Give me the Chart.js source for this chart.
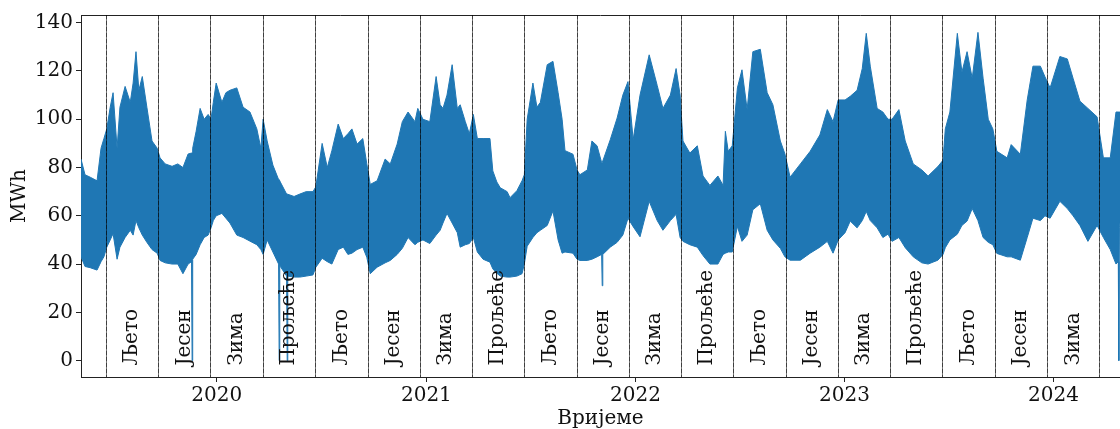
<!DOCTYPE html>
<html lang="sr">
<head>
  <meta charset="UTF-8">
  <title>Потрошња по годишњим добима</title>
  <script src="https://cdn.jsdelivr.net/npm/chart.js@4.4.1/dist/chart.umd.min.js"></script>
  <style>
    html, body { margin: 0; padding: 0; background: #fff; }
  </style>
</head>

<body>
  <canvas id="chart" width="1120" height="429"></canvas>

  <script>
    // day index, 0 = 1 Jan 2020; upper / lower envelope of the hourly series (MWh)
    const days = [-237, -230, -221, -209, -202, -197, -192, -186, -181, -174, -169, -160, -151, -146, -141, -136, -130, -122, -113, -104,
      -99, -90, -78, -68, -59, -50, -44, -43, -42, -36, -29, -22, -15, -10, -6, -1, 9, 16, 23, 35,
      46, 58, 70, 77, 81, 88, 98, 108, 109, 110, 111, 122, 123, 124, 135, 145, 156, 168, 173, 177,
      184, 193, 201, 212, 221, 229, 236, 245, 255, 262, 268, 280, 294, 303, 315, 324, 334, 346, 351, 360,
      372, 383, 390, 395, 402, 411, 420, 425, 434, 441, 448, 455, 465, 477, 482, 489, 495, 507, 512, 524,
      533, 537, 542, 552, 559, 565, 577, 587, 596, 603, 608, 622, 629, 634, 647, 655, 664, 672, 673, 674,
      687, 699, 709, 718, 727, 739, 755, 769, 779, 792, 802, 809, 814, 826, 839, 849, 861, 875, 884, 888,
      893, 900, 909, 917, 926, 936, 949, 961, 971, 984, 992, 1001, 1019, 1036, 1053, 1066, 1076, 1085, 1097, 1106,
      1118, 1127, 1134, 1141, 1153, 1163, 1172, 1179, 1191, 1202, 1216, 1231, 1242, 1259, 1268, 1272, 1280, 1293, 1301, 1310,
      1319, 1329, 1338, 1347, 1355, 1362, 1380, 1387, 1403, 1415, 1425, 1438, 1446, 1455, 1472, 1485, 1495, 1507, 1521, 1537,
      1548, 1560, 1570, 1574, 1575, 1576, 1577];

    const upper = [83.5, 77, 76, 74.5, 88, 92, 96, 105, 111, 88, 105, 113.6, 107, 115, 128, 112, 117.7, 105, 91, 88,
      84, 81.5, 80.5, 81.5, 80, 85.6, 86, 86, 88, 95, 104.5, 100, 102, 100, 107, 115, 107, 111, 112, 113,
      105, 103, 96, 88, 100, 91, 81, 75, 75, 75, 74, 69, 69, 69, 68, 69, 70, 70, 72, 78.6,
      90, 80, 87, 98, 92, 94, 96, 89.7, 92, 81.5, 73, 74.5, 83.5, 81.5, 89.7, 99, 103, 99, 104.5, 100,
      99, 117.7, 106, 104.5, 110, 122.6, 104.5, 106, 99, 94, 102, 92, 92, 92, 78.6, 74, 71.6, 70, 67.5, 70.4,
      74.5, 77, 100, 115, 105, 107, 122.6, 124, 111, 100, 87, 85.5, 79, 77, 79, 91, 89, 82, 82, 82,
      91.5, 100.5, 110, 115.6, 91.5, 110, 126.7, 114, 104.5, 110, 121, 110, 91, 86, 89, 76.5, 72.6, 76.5, 72.6, 95,
      86.7, 89, 113, 120.5, 104, 128, 129, 111, 106, 91, 85.6, 76, 81.5, 86.7, 93.5, 104, 99, 108, 108, 109.5,
      112, 121, 135.6, 122, 104.5, 103, 100, 100, 104, 91, 81.5, 79, 76.5, 80.4, 83, 96, 103, 135.6, 119.5, 128,
      117, 136, 117, 100, 96, 86.7, 84, 89.5, 85.5, 108, 122, 122, 117.6, 113, 126, 125, 117, 107.5, 104.5, 101,
      84, 84, 103, 103, 103, 103, 103];

    const lower = [43, 39, 38.5, 37.5, 41, 43, 47, 50, 52.6, 42, 47, 51, 54, 52, 58, 55, 52, 49, 46, 44.5,
      41.5, 40.5, 40, 40, 36, 40, 41, 0, 42, 44, 48, 51, 52, 55, 58, 60, 61, 59, 57, 52,
      51, 49.5, 48, 46, 44, 50, 45, 40, 0, 40, 39, 35, 0, 35, 34.6, 34.6, 35, 35.5, 38.7, 40,
      42.4, 41, 40, 46, 47, 44, 44.5, 46, 47, 42.8, 36, 38.7, 40.5, 41.5, 44, 46.5, 51, 48, 49, 50,
      48.5, 52, 54, 57, 61, 57, 53, 47, 48, 48.5, 51, 45, 42, 40.8, 38, 36.2, 35, 34.6, 34.6, 35,
      36, 40, 47.4, 51, 53, 54, 56, 62, 50, 44.5, 45, 44.5, 42, 41.5, 41.5, 42, 43, 44, 31, 44,
      47, 49, 52, 59, 55.5, 51.3, 66, 58, 54, 58, 60.6, 51, 49.4, 48, 47, 43.5, 40, 40, 44, 44.5,
      45, 45, 55.6, 49.4, 52, 62.5, 65, 54, 50, 46.5, 43, 41.6, 41.6, 44.5, 47, 49.4, 44.5, 50, 53, 57.8,
      55, 58, 61.8, 58, 55, 51, 52.4, 49.4, 51, 46.8, 43, 40.5, 40, 41.6, 44, 46.8, 50, 52.4, 56, 57.8,
      63, 58, 51, 49, 48, 44.4, 43, 43, 41.6, 51, 59, 58, 60, 59, 66, 63, 60, 56, 49.4, 56,
      51, 46, 40, 41, 0, 55, 57];

    const yearTicks = [0, 366, 731, 1096, 1461];
    const yearLabels = ["2020", "2021", "2022", "2023", "2024"];
    const yTicks = [0, 20, 40, 60, 80, 100, 120, 140];

    const seasonEdges = ["2019-06-21", "2019-09-21", "2019-12-21", "2020-03-21", "2020-06-21", "2020-09-21", "2020-12-21",
      "2021-03-21", "2021-06-21", "2021-09-21", "2021-12-21", "2022-03-21", "2022-06-21", "2022-09-21", "2022-12-21",
      "2023-03-21", "2023-06-21", "2023-09-21", "2023-12-21", "2024-03-21"];
    const seasonNames = ["Љето", "Јесен", "Зима", "Прољеће", "Љето", "Јесен", "Зима", "Прољеће", "Љето", "Јесен", "Зима",
      "Прољеће", "Љето", "Јесен", "Зима", "Прољеће", "Љето", "Јесен", "Зима"];

    const FONT = "'DejaVu Serif', serif";
    const BLUE = "#1f77b4";

    function dayOf(s) {
      return (Date.parse(s) - Date.parse("2020-01-01")) / 86400000;
    }

    const seasonPlugin = {
      id: "seasons",
      afterDatasetsDraw(chart) {
        const { ctx, chartArea: a, scales: { x, y } } = chart;
        const edges = seasonEdges.map(dayOf);
        ctx.save();

        // top spine
        ctx.strokeStyle = "#222";
        ctx.lineWidth = 1;
        ctx.beginPath();
        ctx.moveTo(a.left, a.top + 0.5);
        ctx.lineTo(a.right, a.top + 0.5);
        ctx.stroke();

        // season boundaries: grey line with darker dashes on top
        edges.forEach(d => {
          const px = Math.round(x.getPixelForValue(d)) + 0.5;
          ctx.strokeStyle = "rgba(0,0,0,0.55)";
          ctx.setLineDash([]);
          ctx.beginPath();
          ctx.moveTo(px, a.top);
          ctx.lineTo(px, a.bottom);
          ctx.stroke();
          ctx.strokeStyle = "rgba(0,0,0,0.45)";
          ctx.setLineDash([4, 2]);
          ctx.beginPath();
          ctx.moveTo(px, a.top);
          ctx.lineTo(px, a.bottom);
          ctx.stroke();
        });
        ctx.setLineDash([]);

        // season names
        ctx.fillStyle = "#111";
        ctx.font = "20px " + FONT;
        ctx.textAlign = "left";
        ctx.textBaseline = "middle";
        const y0 = y.getPixelForValue(0) + 5;
        for (let i = 0; i < seasonNames.length; i++) {
          const cx = x.getPixelForValue((edges[i] + edges[i + 1]) / 2);
          ctx.save();
          ctx.translate(cx, y0);
          ctx.rotate(-Math.PI / 2);
          ctx.fillText(seasonNames[i], 0, 0);
          ctx.restore();
        }
        ctx.restore();
      }
    };

    new Chart("chart", {
      type: "line",
      data: {
        datasets: [{
          data: days.map((d, i) => ({ x: d, y: upper[i] })),
          borderColor: BLUE,
          backgroundColor: BLUE,
          borderWidth: 1,
          pointRadius: 0,
          fill: "+1"
        }, {
          data: days.map((d, i) => ({ x: d, y: lower[i] })),
          borderColor: BLUE,
          backgroundColor: BLUE,
          borderWidth: 1,
          pointRadius: 0,
          fill: false
        }]
      },
      options: {
        responsive: false,
        animation: false,
        layout: { padding: { top: 13, left: 0, right: 0, bottom: 0 } },
        plugins: {
          legend: { display: false },
          tooltip: { enabled: false }
        },
        scales: {
          x: {
            type: "linear",
            min: -237,
            max: 1577,
            afterBuildTicks: s => { s.ticks = yearTicks.map(v => ({ value: v })); },
            afterFit: s => { s.height = 52; },
            ticks: {
              callback: v => yearLabels[yearTicks.indexOf(v)],
              font: { family: FONT, size: 20 },
              color: "#111",
              padding: 2,
              maxRotation: 0,
              autoSkip: false
            },
            grid: { drawOnChartArea: false, tickLength: 5, color: "#222" },
            border: { color: "#222" },
            title: {
              display: true,
              text: "Вријеме",
              font: { family: FONT, size: 20, lineHeight: 1 },
              color: "#111",
              padding: 0
            }
          },
          y: {
            min: -6.8,
            max: 143.2,
            afterBuildTicks: s => { s.ticks = yTicks.map(v => ({ value: v })); },
            afterFit: s => { s.width = 81; },
            ticks: {
              font: { family: FONT, size: 20 },
              color: "#111",
              padding: 3
            },
            grid: { drawOnChartArea: false, tickLength: 5, color: "#222" },
            border: { color: "#222" },
            title: {
              display: true,
              text: "MWh",
              font: { family: FONT, size: 20, lineHeight: 1 },
              color: "#111",
              padding: { top: 10, bottom: 0 }
            }
          }
        }
      },
      plugins: [seasonPlugin]
    });
  </script>
</body>

</html>
